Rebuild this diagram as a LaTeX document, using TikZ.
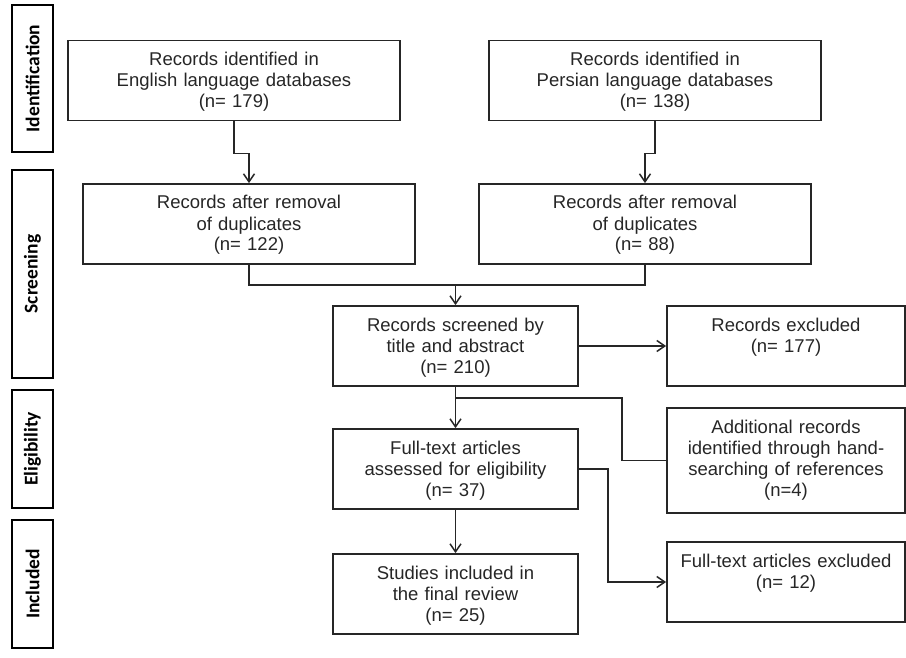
\documentclass[tikz,border=0pt]{standalone}
\usepackage{fontspec}
\setmainfont{Liberation Sans}
\newfontfamily\stagefont{Carlito}
\usetikzlibrary{arrows.meta}

\begin{document}
\begin{tikzpicture}[x=1pt,y=-1pt,>={Straight Barb[length=8pt,width=11pt]},
  box/.style={draw=black!85,line width=1.8pt,inner xsep=4pt,inner ysep=6pt,align=center,
    font=\fontsize{18.5}{21}\selectfont,text=black!85,text height=19pt,text depth=49pt},
  wide/.style={box,text width=324pt},
  narrow/.style={box,text width=237pt},
  right/.style={box,text width=230pt},
  stage/.style={draw=black,line width=2.2pt,rotate=90,minimum height=41pt,inner sep=0pt,
    font=\stagefont\bfseries\fontsize{19.5}{22}\selectfont},
  link/.style={line width=1.5pt,draw=black!85}]
  \useasboundingbox (0,0) rectangle (906,658);
  % Stages
  \node[stage,minimum width=147pt] (sId) at (32.5,78.5) {Identification};
  \node[stage,minimum width=208pt] (sScr) at (32.5,274) {Screening};
  \node[stage,minimum width=118pt] (sEli) at (32.5,449) {Eligibility};
  \node[stage,minimum width=128pt] (sInc) at (32.5,584) {Included};
  % Identification
  \node[wide] (idA) at (234,80.5) {Records identified in\\English language databases\\(n= 179)};
  \node[wide] (idB) at (655,80.5) {Records identified in\\Persian language databases\\(n= 138)};
  % Screening
  \node[wide] (dupA) at (249,224) {Records after removal\\of duplicates\\(n= 122)};
  \node[wide] (dupB) at (645,224) {Records after removal\\of duplicates\\(n= 88)};
  \node[narrow] (screen) at (455.5,346) {Records screened by\\title and abstract\\(n= 210)};
  \node[right] (excl) at (786,346) {Records excluded\\(n= 177)};
  % Eligibility
  \node[narrow] (full) at (455.5,469) {Full-text articles\\assessed for eligibility\\(n= 37)};
  \node[right,text depth=74pt] (extra) at (786,460.5) {Additional records\\identified through hand-\\searching of references\\(n=4)};
  % Included
  \node[narrow] (incl) at (455.5,594) {Studies included in\\the final review\\(n= 25)};
  \node[right] (fexcl) at (786,582) {Full-text articles excluded\\(n= 12)};
  % Connectors
  \coordinate (join1) at (455.5,285);
  \coordinate (join2) at (455.5,398);
  \draw[link,->] (idA.south) -- ++(0,32) -| (dupA.north);
  \draw[link,->] (idB.south) -- ++(0,32) -| (dupB.north);
  \draw[link] (dupA.south) |- (join1);
  \draw[link] (dupB.south) |- (join1);
  \draw[link,->] (join1) -- (screen.north);
  \draw[link,->] (screen) -- (excl);
  \draw[link,->] (screen.south) -- (full.north);
  \draw[link] (extra.west) -- ++(-44,0) |- (join2);
  \draw[link,->] (full.east) -- ++(29,0) |- (fexcl.west);
  \draw[link,->] (full.south) -- (incl.north);
\end{tikzpicture}
\end{document}
